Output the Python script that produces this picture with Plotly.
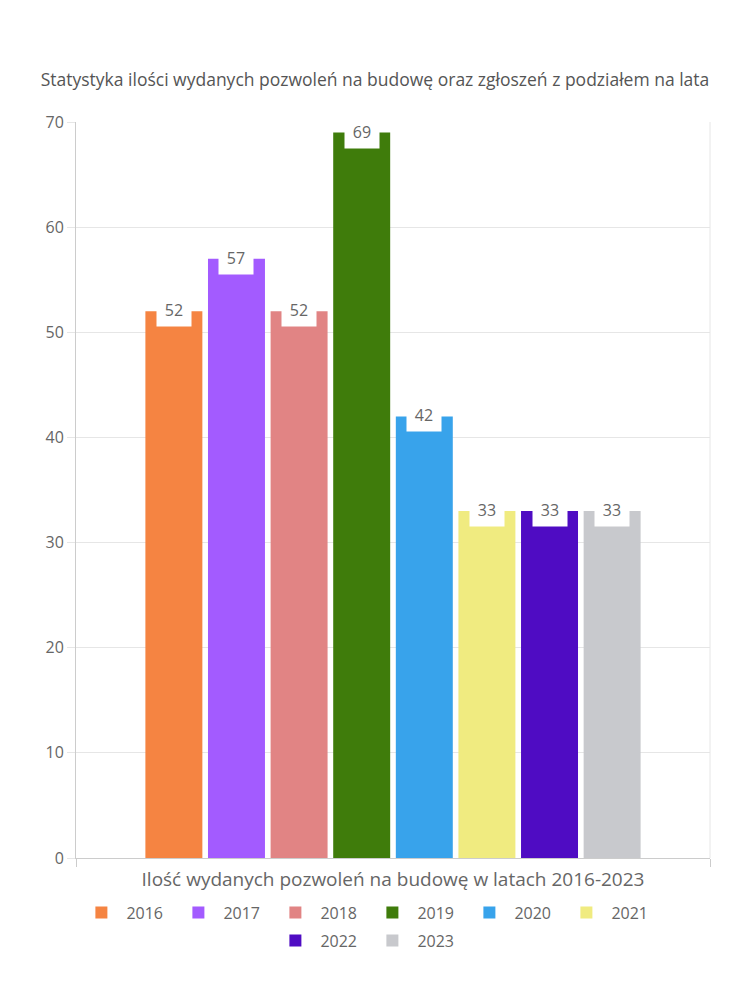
import plotly.graph_objects as go

title = "Statystyka ilości wydanych pozwoleń na budowę oraz zgłoszeń z podziałem na lata"
category = "Ilość wydanych pozwoleń na budowę w latach 2016-2023"
years = ["2016", "2017", "2018", "2019", "2020", "2021", "2022", "2023"]
values = [52, 57, 52, 69, 42, 33, 33, 33]
colors = ["#F58442", "#A35BFF", "#E18484", "#3F7C0B", "#38A3EB", "#F0EB80", "#4F0CC3", "#C8C9CD"]
legend_rows = ["legend"] * 6 + ["legend2"] * 2

FONT = "Open Sans"
TXT = "#666666"
bargap = 0.21
bargroupgap = 0.09
W, H = 750, 1000
ML, MR, MT, MB = 76, 40, 122, 142

fig = go.Figure()
for y, v, c, lg in zip(years, values, colors, legend_rows):
    fig.add_trace(go.Bar(x=[0], y=[v], name=y, legend=lg,
                         marker=dict(color=c, line=dict(width=0)),
                         hovertemplate=y + ": %{y}<extra></extra>"))

n = len(years)
slot = (1 - bargap) / n
for i, v in enumerate(values):
    cx = -0.5 + bargap / 2 + (i + 0.5) * slot
    fig.add_annotation(x=cx, y=v, xref="x", yref="y", text=str(v), showarrow=False,
                       yanchor="middle", yshift=1, bgcolor="white", borderpad=5, width=24,
                       font=dict(family=FONT, size=16, color=TXT))

page_center = (W / 2 - ML) / (W - ML - MR)
legend_common = dict(orientation="h", x=page_center - 0.012, xanchor="center", yanchor="top",
                     font=dict(family=FONT, size=16, color=TXT), itemwidth=40,
                     entrywidth=42, entrywidthmode="pixels",
                     traceorder="normal", bgcolor="rgba(0,0,0,0)")

fig.update_layout(
    width=W, height=H,
    margin=dict(l=ML, r=MR, t=MT, b=MB, autoexpand=False),
    paper_bgcolor="white", plot_bgcolor="white",
    barmode="group", bargap=bargap, bargroupgap=bargroupgap,
    title=dict(text=title, x=0.5, xanchor="center", y=1 - 80 / H, yanchor="middle",
               font=dict(family=FONT, size=17.5, color="#555555")),
    font=dict(family=FONT, size=16, color=TXT),
    showlegend=True,
    legend=dict(y=-0.051, **legend_common),
    legend2=dict(y=-0.089, **legend_common),
    xaxis=dict(range=[-0.5, 0.5], tickmode="array", tickvals=[0], ticktext=[category],
               ticks="", showgrid=False, zeroline=False, ticklabelstandoff=4,
               showline=True, linecolor="#cccccc", linewidth=1,
               tickfont=dict(family=FONT, size=19, color=TXT),
               minor=dict(tickmode="array", tickvals=[-0.5, 0.5], ticks="outside", ticklen=8,
                          tickcolor="#cccccc", showgrid=True, gridcolor="#e6e6e6")),
    yaxis=dict(range=[0, 70], dtick=10, ticks="outside", ticklen=8, tickcolor="#e6e6e6",
               showgrid=True, gridcolor="#e6e6e6", zeroline=False,
               showline=True, linecolor="#cccccc", linewidth=1,
               tickfont=dict(family=FONT, size=16, color=TXT)),
)
fig.add_shape(type="line", xref="paper", yref="paper", x0=1, x1=1, y0=0, y1=1,
              line=dict(color="#e6e6e6", width=1), layer="below")

fig.write_html("out.html")
